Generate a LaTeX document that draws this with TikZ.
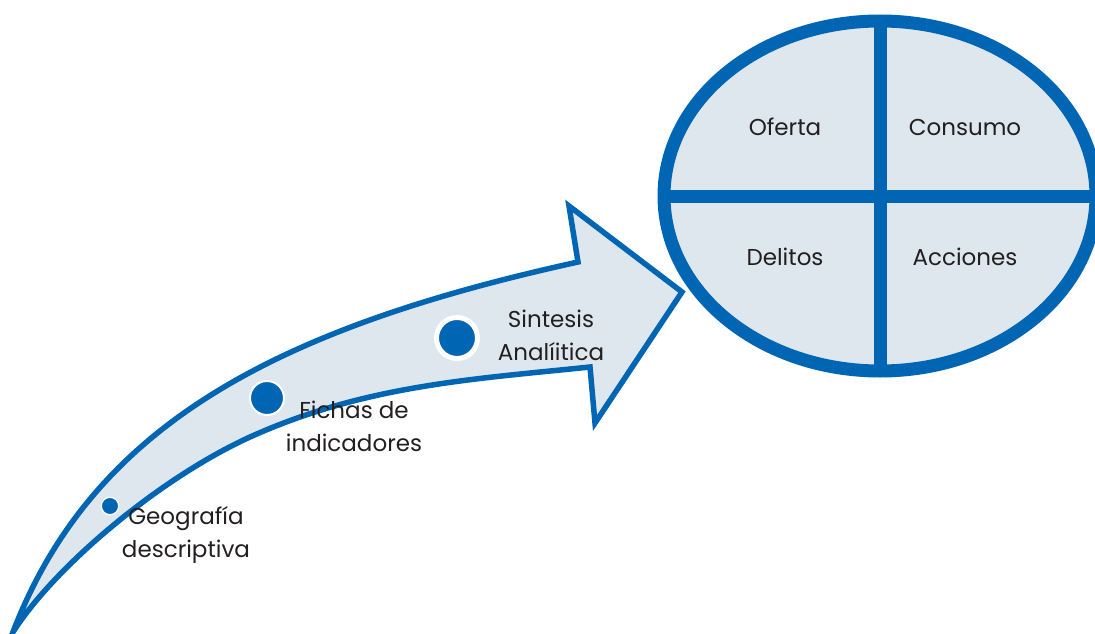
\documentclass[tikz,border=0pt]{standalone}
\usepackage{fontspec}
\setmainfont{Poppins}
\definecolor{myblue}{HTML}{0066B3}
\definecolor{myfill}{HTML}{DFE7EE}
\definecolor{mytext}{HTML}{231F20}
\begin{document}
\begin{tikzpicture}[x=1pt,y=-1pt,
  lbl/.style={text=mytext, font=\fontsize{23}{33}\selectfont, align=center, inner sep=0pt},
  dot/.style={circle, fill=myblue, draw=white, inner sep=0pt}]
\useasboundingbox (0,0) rectangle (1095,634);
\clip (0,0) rectangle (1095,634);
\fill[white] (0,0) rectangle (1095,634);
% curved arrow
\coordinate (tail) at (13,632);
\coordinate (nu) at (578,262);
\coordinate (bu) at (569,206);
\coordinate (tip) at (682,292);
\coordinate (bl) at (595,423);
\coordinate (nl) at (590,367);
\coordinate (ml) at (250,437);
\draw[myblue, line width=5.5, fill=myfill, line join=miter, miter limit=10]
  (tail) .. controls (93,424) and (278,328) .. (nu)
  -- (bu) -- (tip) -- (bl) -- (nl)
  .. controls (475,379) and (365,385) .. (ml)
  .. controls (160,478) and (55,566) .. (tail) -- cycle;
% dots
\node[dot, minimum size=17.4, line width=1.2] (d1) at (110,506) {};
\node[dot, minimum size=34, line width=2] (d2) at (267,398) {};
\node[dot, minimum size=41, line width=5] (d3) at (457,338) {};
% step labels
\node[lbl] (t1) at (186,535) {Geografía\\descriptiva};
\node[lbl] (t2) at (354,426) {Fichas de\\indicadores};
\node[lbl] (t3) at (551,335) {Sintesis\\Analíitica};
% ellipse
\draw[myblue, line width=13, fill=myfill] (880,196) ellipse [x radius=216, y radius=175];
\draw[myblue, line width=13] (664,196) -- (1096,196);
\draw[myblue, line width=13] (880,21) -- (880,371);
\node[lbl] (of) at (785,127) {Oferta};
\node[lbl] (co) at (965,127) {Consumo};
\node[lbl] (de) at (785,257) {Delitos};
\node[lbl] (ac) at (965,257) {Acciones};
\end{tikzpicture}
\end{document}
